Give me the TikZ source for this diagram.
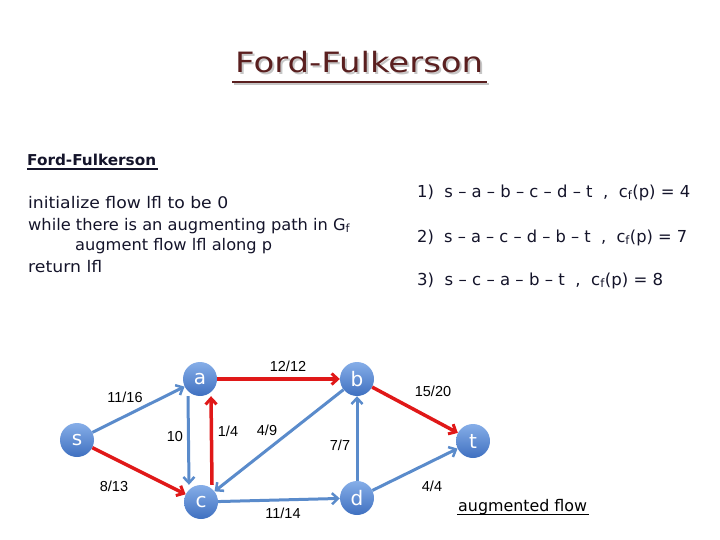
\documentclass[tikz,border=0pt]{standalone}
\usepackage{graphicx}
\usepackage{fontspec}
\setmainfont{DejaVu Sans}
\newfontfamily\lblfont{Liberation Sans}
\usetikzlibrary{arrows.meta}
\definecolor{ttl}{HTML}{5A1F1F}
\definecolor{txt}{HTML}{14142A}
\definecolor{eblue}{HTML}{5A8BCB}
\definecolor{ered}{HTML}{E01818}
\definecolor{ntop}{HTML}{86AEE8}
\definecolor{nbot}{HTML}{3F70C0}
\newcommand{\fitw}[2]{\resizebox{#1}{\height}{#2}}
\tikzset{
  vert/.style={circle,minimum size=34pt,inner sep=0pt,top color=ntop,bottom color=nbot,text=white,font=\fontsize{20}{20}\selectfont},
  bedge/.style={draw=eblue,line width=3pt,-{Straight Barb[length=6pt,width=11pt,line width=2.5pt]}},
  redge/.style={draw=ered,line width=3.5pt,-{Straight Barb[length=6pt,width=11pt,line width=3pt]}},
  elbl/.style={font=\lblfont\fontsize{14.5}{14.5}\selectfont,text=black,inner sep=0pt},
  ptxt/.style={anchor=base west,inner sep=0pt,text=txt,font=\fontsize{16}{16}\selectfont},
}
\begin{document}
\begin{tikzpicture}[x=1pt,y=-1pt]
\useasboundingbox (0,0) rectangle (720,540);
% title
\node[anchor=base west,inner sep=0pt,text=gray!45,font=\fontsize{28}{28}\selectfont] (ttlsh) at (237,75) {\fitw{248pt}{Ford-Fulkerson}};
\node[anchor=base west,inner sep=0pt,text=ttl,font=\fontsize{28}{28}\selectfont] (ttl) at (235,73) {\fitw{248pt}{Ford-Fulkerson}};
\draw[gray!45,line width=2pt] (234,84) -- (489,84);
\draw[ttl,line width=2pt] (232,82) -- (487,82);
% subtitle
\node[ptxt,font=\bfseries\fontsize{15}{15}\selectfont] (sub) at (27,166) {\fitw{129pt}{Ford-Fulkerson}};
\draw[txt,line width=1.2pt] (27,169) -- (158,169);
% pseudocode
\node[ptxt] (l1) at (28,208) {\fitw{200pt}{initialize flow lfl to be 0}};
\node[ptxt] (l2) at (28,230) {\fitw{322pt}{while there is an augmenting path in G\textsubscript{f}}};
\node[ptxt] (l3) at (75,251) {\fitw{197pt}{augment flow lfl along p}};
\node[ptxt] (l4) at (28,272) {\fitw{74pt}{return lfl}};
% paths
\node[ptxt,font=\fontsize{16.5}{16.5}\selectfont] (p1) at (417,197) {\fitw{273pt}{1)\ \ s -- a -- b -- c -- d -- t \ , \ c\textsubscript{f}(p) = 4}};
\node[ptxt,font=\fontsize{16.5}{16.5}\selectfont] (p2) at (417,242) {\fitw{270pt}{2)\ \ s -- a -- c -- d -- b -- t \ , \ c\textsubscript{f}(p) = 7}};
\node[ptxt,font=\fontsize{16.5}{16.5}\selectfont] (p3) at (417,285) {\fitw{246pt}{3)\ \ s -- c -- a -- b -- t \ , \ c\textsubscript{f}(p) = 8}};
% graph
\node[vert] (s) at (77,440) {s};
\node[vert] (a) at (200,379) {a};
\node[vert] (c) at (201,502) {c};
\node[vert] (b) at (357,379) {b};
\node[vert] (d) at (357,498) {d};
\node[vert] (t) at (473,441) {t};
\draw[bedge] (s) -- (a);
\draw[redge] (s) -- (c);
\draw[bedge] ([xshift=-12pt]a.south) -- ([xshift=-12pt]c.north);
\draw[redge] ([xshift=11pt]c.north) -- ([xshift=11pt]a.south);
\draw[redge] (a) -- (b);
\draw[bedge] (b) -- (c);
\draw[bedge] (c) -- (d);
\draw[bedge] (d) -- (b);
\draw[redge] (b) -- (t);
\draw[bedge] (d) -- (t);
\node[elbl] (w1) at (125,397) {11/16};
\node[elbl] (w2) at (114,486) {8/13};
\node[elbl] (w3) at (175,437) {10};
\node[elbl] (w4) at (228,431) {1/4};
\node[elbl] (w5) at (267,430) {4/9};
\node[elbl] (w6) at (288,366) {12/12};
\node[elbl] (w7) at (340,445) {7/7};
\node[elbl] (w8) at (283,513) {11/14};
\node[elbl] (w9) at (433,391) {15/20};
\node[elbl] (w10) at (432,486) {4/4};
\node[ptxt,text=black] (aug) at (458,511) {\fitw{129pt}{augmented flow}};
\draw[black,line width=1pt] (457,514) -- (589,514);
\end{tikzpicture}
\end{document}
